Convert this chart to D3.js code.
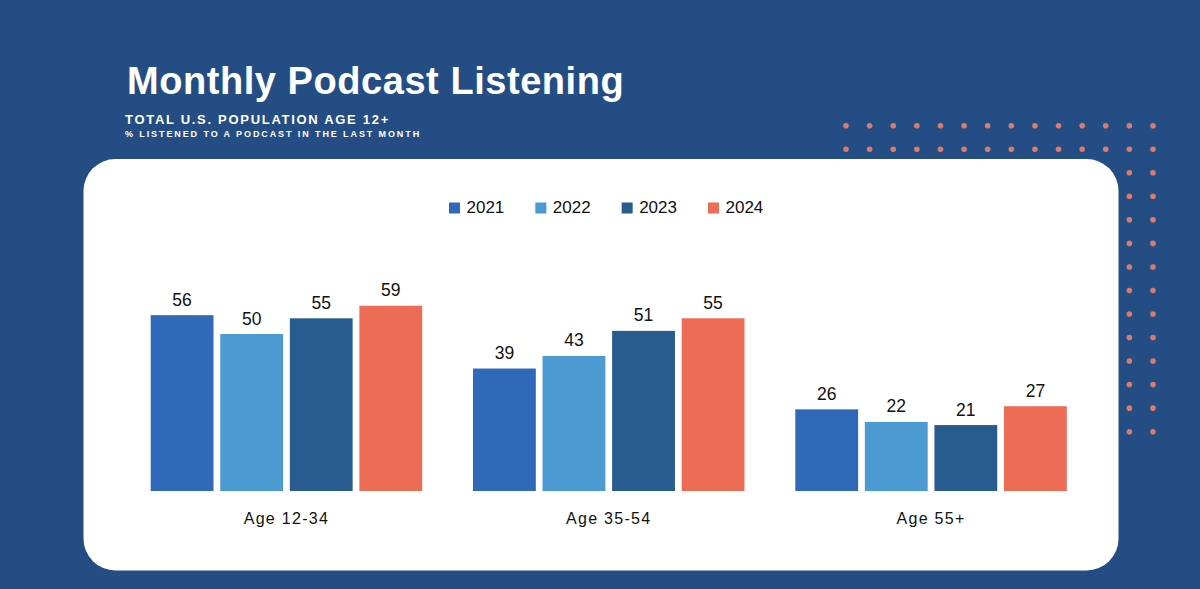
<!DOCTYPE html>
<html><head><meta charset="utf-8">
<script src="https://cdn.jsdelivr.net/npm/d3@7"></script>
<style>html,body{margin:0;padding:0;background:#244e83;overflow:hidden}svg{display:block}</style>
</head><body>
<svg id="chart" width="1200" height="589"></svg>
<script>
const categories = ["Age 12-34", "Age 35-54", "Age 55+"];
const years = ["2021", "2022", "2023", "2024"];
const values2021 = [56, 39, 26];
const values2022 = [50, 43, 22];
const values2023 = [55, 51, 21];
const values2024 = [59, 55, 27];
const seriesValues = [values2021, values2022, values2023, values2024];
const colors = ["#2f69b8", "#4b9bd2", "#285b8e", "#ec6c56"];

const W = 1200, H = 589;
const svg = d3.select("#chart");
const FONT = "'Liberation Sans', Arial, sans-serif";

svg.append("rect").attr("width", W).attr("height", H).attr("fill", "#244e83");

// dot pattern
const dotCols = d3.range(14), dotRows = d3.range(14);
const dx = d3.scaleLinear().domain([0, 13]).range([846, 1153]);
const dy = d3.scaleLinear().domain([0, 13]).range([125.7, 431.7]);
const dots = [];
dotRows.forEach(r => dotCols.forEach(c => { if (r < 2 || c >= 12) dots.push([c, r]); }));
svg.append("g").selectAll("circle").data(dots).join("circle")
  .attr("cx", d => dx(d[0])).attr("cy", d => dy(d[1])).attr("r", 2.8)
  .attr("fill", "#dc7a6c");

// white panel
svg.append("rect").attr("x", 83.5).attr("y", 159).attr("width", 1035).attr("height", 411.5)
  .attr("rx", 32).attr("ry", 32).attr("fill", "#ffffff");

// title
svg.append("text").attr("x", 127).attr("y", 93.5).attr("fill", "#fff")
  .attr("font-family", FONT).attr("font-weight", "bold").attr("font-size", 38)
  .attr("letter-spacing", 0.55)
  .text("Monthly Podcast Listening");
svg.append("text").attr("x", 125).attr("y", 124).attr("fill", "#fff")
  .attr("font-family", FONT).attr("font-weight", "bold").attr("font-size", 13)
  .attr("letter-spacing", 1.7)
  .text("TOTAL U.S. POPULATION AGE 12+");
svg.append("text").attr("x", 125).attr("y", 137.3).attr("fill", "#fff")
  .attr("font-family", FONT).attr("font-weight", "bold").attr("font-size", 9)
  .attr("letter-spacing", 1.9)
  .text("% LISTENED TO A PODCAST IN THE LAST MONTH");

// scales
const x0 = d3.scaleBand().domain(categories).range([125.3, 1092.2]).paddingInner(0.1576).paddingOuter(0.0788);
const x1 = d3.scaleBand().domain(years).range([0, x0.bandwidth()]).paddingInner(0.097).paddingOuter(0);
const y = d3.scaleLinear().domain([0, 100]).range([491, 177]);

const groups = svg.append("g").selectAll("g").data(categories).join("g")
  .attr("transform", c => `translate(${x0(c)},0)`);

groups.selectAll("rect").data((c, ci) => years.map((yr, si) => ({ yr, si, v: seriesValues[si][ci] })))
  .join("rect")
  .attr("x", d => x1(d.yr)).attr("y", d => y(d.v))
  .attr("width", x1.bandwidth()).attr("height", d => y(0) - y(d.v))
  .attr("fill", d => colors[d.si]);

groups.selectAll("text.val").data((c, ci) => years.map((yr, si) => ({ yr, si, v: seriesValues[si][ci] })))
  .join("text").attr("class", "val")
  .attr("x", d => x1(d.yr) + x1.bandwidth() / 2).attr("y", d => y(d.v) - 9.5)
  .attr("text-anchor", "middle").attr("font-family", FONT).attr("font-size", 17.5).attr("fill", "#111")
  .text(d => d.v);

// category axis labels
const xAxis = d3.axisBottom(x0).tickSize(0).tickPadding(0);
const ax = svg.append("g").attr("transform", "translate(0,491)").call(xAxis);
ax.select(".domain").remove();
ax.selectAll("text").attr("font-family", FONT).attr("font-size", 16).attr("fill", "#111")
  .attr("letter-spacing", 1.3)
  .attr("dy", null).attr("y", 33);

// legend
const legend = svg.append("g");
let lx = 449;
years.forEach((yr, i) => {
  const g = legend.append("g").attr("transform", `translate(${lx},0)`);
  g.append("rect").attr("x", 0).attr("y", 202.5).attr("width", 11).attr("height", 11).attr("fill", colors[i]);
  const t = g.append("text").attr("x", 17.5).attr("y", 212.5).attr("font-family", FONT)
    .attr("font-size", 17).attr("fill", "#111").text(yr);
  lx += 17.5 + t.node().getComputedTextLength() + 31;
});
</script>
</body></html>
